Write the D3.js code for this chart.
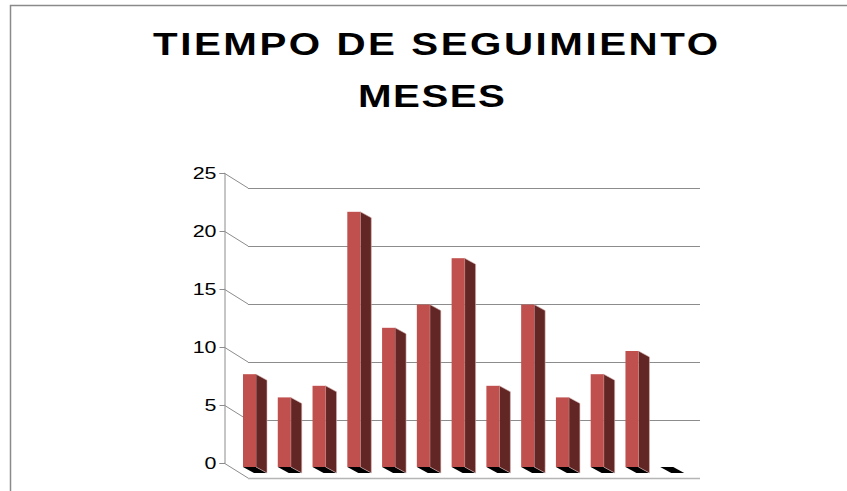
<!DOCTYPE html>
<html>
<head>
<meta charset="utf-8">
<script src="https://cdn.jsdelivr.net/npm/d3@7"></script>
<style>
  body { margin: 0; background: #fff; }
  svg { display: block; }
  text { font-family: "Liberation Sans", Arial, sans-serif; fill: #000; }
</style>
</head>
<body>
<script>
const width = 847;
const height = 491;

const categories = ['1', '2', '3', '4', '5', '6', '7', '8', '9', '10', '11', '12', '13'];
const values = [8, 6, 7, 22, 12, 14, 18, 7, 14, 6, 8, 10, 0];
const yTicks = [0, 5, 10, 15, 20, 25];
const titleLines = ['TIEMPO DE SEGUIMIENTO', 'MESES'];

function init() {
  const svg = d3.select('body')
    .append('svg')
    .attr('width', width)
    .attr('height', height);

  // text in the picture is stretched sideways
  const stretch = 1.3;

  // depth of the 3d floor (front plane -> back wall)
  const depth = { dx: 24, dy: 15 };
  // bar depth
  const bar = { offset: 19, w: 13, dx: 11, dy: 6, lift: 4 };

  const x = d3.scaleBand()
    .domain(categories)
    .range([224, 676]);

  const y = d3.scaleLinear()
    .domain([0, 25])
    .range([463, 173]);

  // frame
  svg.append('path')
    .attr('d', `M10.5,${height} L10.5,5.5 L${width},5.5`)
    .attr('fill', 'none')
    .attr('stroke', '#8a8a8a')
    .attr('stroke-width', 1.5);

  // title
  const titlePos = [
    { cx: 435.5, y: 55, w: 565 },
    { cx: 431.5, y: 107, w: 147 }
  ];

  svg.selectAll('text.title')
    .data(titleLines)
    .join('text')
    .classed('title', true)
    .attr('transform', (d, i) => `translate(${titlePos[i].cx}, ${titlePos[i].y}) scale(${stretch}, 1)`)
    .attr('text-anchor', 'middle')
    .attr('font-size', 31)
    .attr('font-weight', 'bold')
    .attr('textLength', (d, i) => titlePos[i].w / stretch)
    .attr('lengthAdjust', 'spacing')
    .text(d => d);

  const grid = svg.append('g');

  grid.selectAll('line.back')
    .data(yTicks)
    .join('line')
    .classed('back', true)
    .attr('x1', x.range()[0] + depth.dx)
    .attr('x2', x.range()[1] + depth.dx)
    .attr('y1', d => y(d) + depth.dy + 0.5)
    .attr('y2', d => y(d) + depth.dy + 0.5)
    .attr('stroke', d => d === 0 ? '#b5b5b5' : '#8c8c8c')
    .attr('stroke-width', d => d === 0 ? 1.5 : 1);

  grid.selectAll('line.diag')
    .data(yTicks)
    .join('line')
    .classed('diag', true)
    .attr('x1', x.range()[0])
    .attr('x2', x.range()[0] + depth.dx)
    .attr('y1', d => y(d))
    .attr('y2', d => y(d) + depth.dy)
    .attr('stroke', '#8c8c8c')
    .attr('stroke-width', 1);

  // vertical axis
  const axis = svg.append('g')
    .attr('transform', `translate(${x.range()[0] + 0.5}, 0)`)
    .call(d3.axisLeft(y).tickValues(yTicks).tickSize(5).tickPadding(3));

  axis.select('.domain').attr('stroke', '#8c8c8c');
  axis.selectAll('.tick line').attr('stroke', '#8c8c8c');
  axis.selectAll('.tick text')
    .attr('x', null)
    .attr('transform', `translate(-8, 0) scale(${stretch}, 1)`)
    .attr('font-family', '"Liberation Sans", Arial, sans-serif')
    .attr('font-size', 16.5)
    .attr('fill', '#000');

  // bars
  const bars = svg.append('g')
    .selectAll('g')
    .data(categories.map((c, i) => ({ c, v: values[i] })))
    .join('g');

  function geom(d) {
    const xl = x(d.c) + bar.offset;
    const xr = xl + bar.w;
    const yb = y(0) + bar.lift;
    const yt = y(d.v) + bar.lift;
    return { xl, xr, yb, yt };
  }

  bars.append('path')
    .attr('fill', '#000')
    .attr('d', d => {
      const g = geom(d);
      return `M${g.xl},${g.yb} L${g.xr},${g.yb} L${g.xr + bar.dx},${g.yb + bar.dy} L${g.xl + bar.dx},${g.yb + bar.dy}Z`;
    });

  bars.filter(d => d.v > 0)
    .append('path')
    .attr('fill', '#622725')
    .attr('stroke', '#d8b4b3')
    .attr('stroke-width', 0.6)
    .attr('d', d => {
      const g = geom(d);
      return `M${g.xr},${g.yt} L${g.xr + bar.dx},${g.yt + bar.dy} L${g.xr + bar.dx},${g.yb + bar.dy} L${g.xr},${g.yb}Z`;
    });

  bars.filter(d => d.v > 0)
    .append('rect')
    .attr('fill', '#c0504d')
    .attr('x', d => geom(d).xl)
    .attr('y', d => geom(d).yt)
    .attr('width', bar.w)
    .attr('height', d => geom(d).yb - geom(d).yt);
}

init();
</script>
</body>
</html>
